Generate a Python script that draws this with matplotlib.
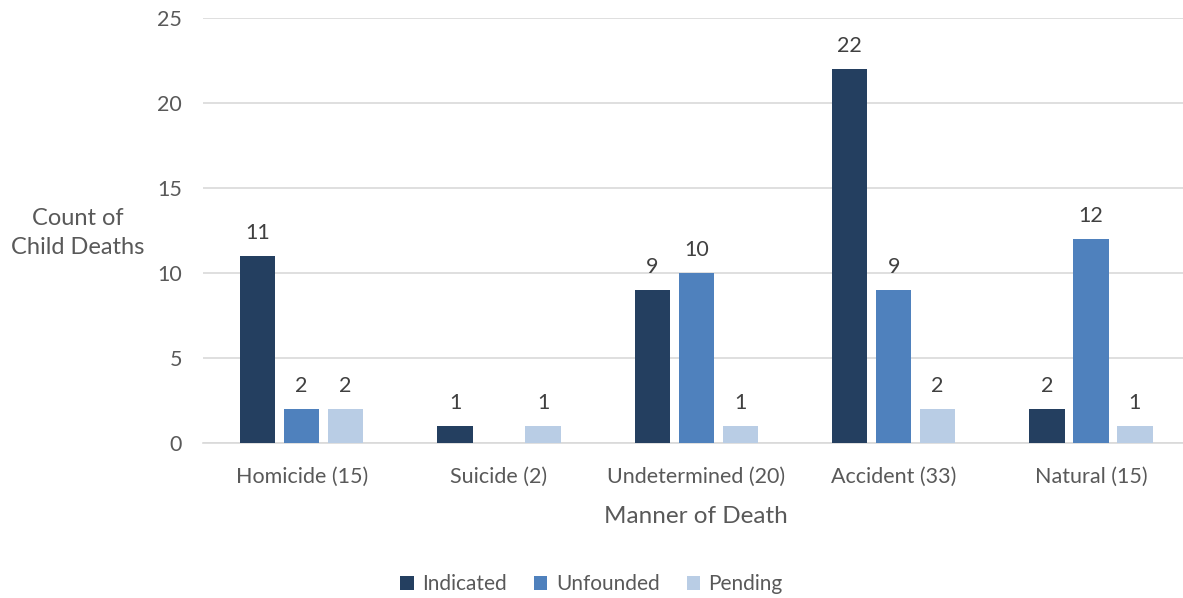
import matplotlib.pyplot as plt
import numpy as np

plt.rcParams['font.family'] = ['Lato', 'DejaVu Sans']

categories = ['Homicide (15)', 'Suicide (2)', 'Undetermined (20)', 'Accident (33)', 'Natural (15)']
indicated = [11, 1, 9, 22, 2]
unfounded = [2, 0, 10, 9, 12]
pending = [2, 1, 1, 2, 1]
series = [('Indicated', indicated, '#243F60'),
          ('Unfounded', unfounded, '#4F81BD'),
          ('Pending', pending, '#B9CDE5')]

txt = '#595959'
fig = plt.figure(figsize=(11.83, 5.98), dpi=100)
ax = fig.add_axes([0.1716, 0.259, 0.834, 0.711])

x = np.arange(len(categories))
w = 0.178
step = 0.223
for k, (name, vals, col) in enumerate(series):
    pos = x + (k - 1) * step
    for p, v in zip(pos, vals):
        if v == 0:
            continue
        ax.bar(p, v, width=w, color=col, label=name if p == pos[0] else None, zorder=3)
        ax.text(p, v + 0.75, str(v), ha='center', va='bottom', fontsize=15.5, color='#404040')

ax.set_xlim(-0.5, len(categories) - 0.5)
ax.set_ylim(0, 25)
ax.set_yticks(range(0, 26, 5))
ax.set_xticks(x)
ax.set_xticklabels(categories)
ax.tick_params(axis='both', length=0, labelsize=15.5, labelcolor=txt)
ax.tick_params(axis='y', pad=15)
ax.tick_params(axis='x', pad=17)
ax.grid(axis='y', color='#D9D9D9', linewidth=1.2, zorder=0)
for s in ['top', 'right', 'left']:
    ax.spines[s].set_visible(False)
ax.spines['bottom'].set_color('#D9D9D9')
ax.spines['bottom'].set_linewidth(1.2)

ax.set_xlabel('Manner of Death', fontsize=17.5, color=txt, labelpad=14)
fig.text(0.066, 0.61, 'Count of\nChild Deaths', ha='center', va='center',
         fontsize=17, color=txt, linespacing=1.5)

fig.legend(loc='center', bbox_to_anchor=(0.5, 0.023), ncol=3, frameon=False,
           fontsize=15, labelcolor=txt, handlelength=0.65, handleheight=0.65,
           handletextpad=0.4, columnspacing=1.3)

fig.savefig('out.png', dpi=100)
